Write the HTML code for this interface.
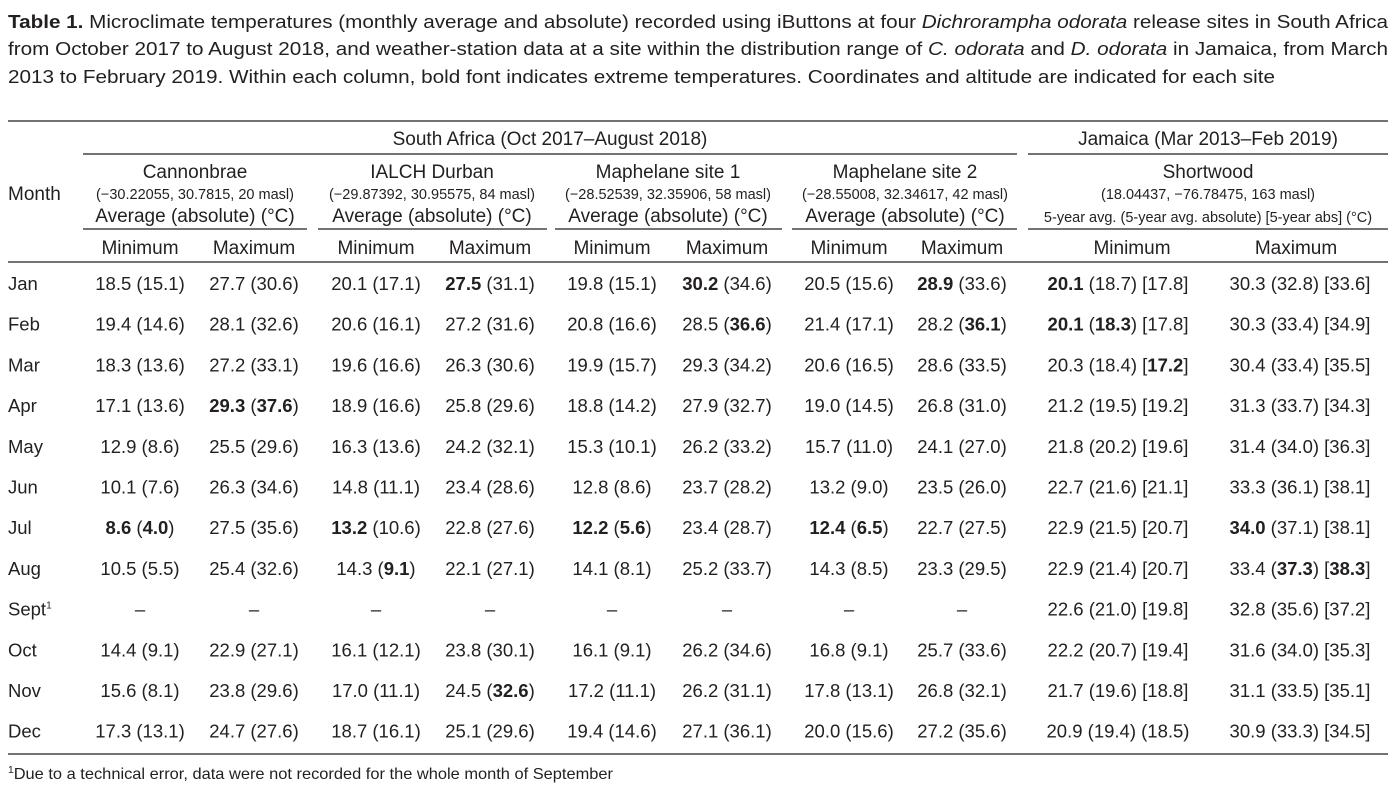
<!DOCTYPE html>
<html><head><meta charset="utf-8"><style>
body{margin:0;background:#fff}
svg{display:block;font-family:"Liberation Sans",sans-serif;fill:#231f20}
</style></head><body>
<svg id="t" width="1393" height="791" viewBox="0 0 1393 791" xmlns="http://www.w3.org/2000/svg">
<g font-size="18.5">
<text x="8" y="28" textLength="1380" lengthAdjust="spacingAndGlyphs"><tspan font-weight="bold">Table 1.</tspan> Microclimate temperatures (monthly average and absolute) recorded using iButtons at four <tspan font-style="italic">Dichrorampha odorata</tspan> release sites in South Africa</text>
<text x="8" y="55" textLength="1380" lengthAdjust="spacingAndGlyphs">from October 2017 to August 2018, and weather-station data at a site within the distribution range of <tspan font-style="italic">C. odorata</tspan> and <tspan font-style="italic">D. odorata</tspan> in Jamaica, from March</text>
<text x="8" y="83" textLength="1267" lengthAdjust="spacingAndGlyphs">2013 to February 2019. Within each column, bold font indicates extreme temperatures. Coordinates and altitude are indicated for each site</text>
</g>
<g stroke="#231f20" stroke-width="1.2">
<line x1="8" x2="1388" y1="121" y2="121"/>
<line x1="83" x2="1017" y1="154" y2="154"/>
<line x1="1028" x2="1388" y1="154" y2="154"/>
<line x1="83" x2="307" y1="229" y2="229"/>
<line x1="318" x2="547" y1="229" y2="229"/>
<line x1="555" x2="782" y1="229" y2="229"/>
<line x1="792" x2="1017" y1="229" y2="229"/>
<line x1="1028" x2="1388" y1="229" y2="229"/>
<line x1="8" x2="1388" y1="262" y2="262"/>
<line x1="8" x2="1388" y1="754" y2="754"/>
</g>
<g font-size="19" text-anchor="middle">
<text x="550" y="145">South Africa (Oct 2017–August 2018)</text>
<text x="1208" y="145">Jamaica (Mar 2013–Feb 2019)</text>
<text x="8" y="200" text-anchor="start">Month</text>
<g id="sites"></g>
</g>
<g id="body" font-size="18.5" text-anchor="middle"></g>
<text x="8" y="779" font-size="16" textLength="605" lengthAdjust="spacingAndGlyphs"><tspan font-size="10" dy="-6">1</tspan><tspan dy="6">Due to a technical error, data were not recorded for the whole month of September</tspan></text>
</svg>
<script>
const months=["Jan","Feb","Mar","Apr","May","Jun","Jul","Aug","Sept","Oct","Nov","Dec"];
const cannonMin=["18.5 (15.1)","19.4 (14.6)","18.3 (13.6)","17.1 (13.6)","12.9 (8.6)","10.1 (7.6)","*8.6* (*4.0*)","10.5 (5.5)","–","14.4 (9.1)","15.6 (8.1)","17.3 (13.1)"];
const cannonMax=["27.7 (30.6)","28.1 (32.6)","27.2 (33.1)","*29.3* (*37.6*)","25.5 (29.6)","26.3 (34.6)","27.5 (35.6)","25.4 (32.6)","–","22.9 (27.1)","23.8 (29.6)","24.7 (27.6)"];
const ialchMin=["20.1 (17.1)","20.6 (16.1)","19.6 (16.6)","18.9 (16.6)","16.3 (13.6)","14.8 (11.1)","*13.2* (10.6)","14.3 (*9.1*)","–","16.1 (12.1)","17.0 (11.1)","18.7 (16.1)"];
const ialchMax=["*27.5* (31.1)","27.2 (31.6)","26.3 (30.6)","25.8 (29.6)","24.2 (32.1)","23.4 (28.6)","22.8 (27.6)","22.1 (27.1)","–","23.8 (30.1)","24.5 (*32.6*)","25.1 (29.6)"];
const maph1Min=["19.8 (15.1)","20.8 (16.6)","19.9 (15.7)","18.8 (14.2)","15.3 (10.1)","12.8 (8.6)","*12.2* (*5.6*)","14.1 (8.1)","–","16.1 (9.1)","17.2 (11.1)","19.4 (14.6)"];
const maph1Max=["*30.2* (34.6)","28.5 (*36.6*)","29.3 (34.2)","27.9 (32.7)","26.2 (33.2)","23.7 (28.2)","23.4 (28.7)","25.2 (33.7)","–","26.2 (34.6)","26.2 (31.1)","27.1 (36.1)"];
const maph2Min=["20.5 (15.6)","21.4 (17.1)","20.6 (16.5)","19.0 (14.5)","15.7 (11.0)","13.2 (9.0)","*12.4* (*6.5*)","14.3 (8.5)","–","16.8 (9.1)","17.8 (13.1)","20.0 (15.6)"];
const maph2Max=["*28.9* (33.6)","28.2 (*36.1*)","28.6 (33.5)","26.8 (31.0)","24.1 (27.0)","23.5 (26.0)","22.7 (27.5)","23.3 (29.5)","–","25.7 (33.6)","26.8 (32.1)","27.2 (35.6)"];
const jamMin=["*20.1* (18.7) [17.8]","*20.1* (*18.3*) [17.8]","20.3 (18.4) [*17.2*]","21.2 (19.5) [19.2]","21.8 (20.2) [19.6]","22.7 (21.6) [21.1]","22.9 (21.5) [20.7]","22.9 (21.4) [20.7]","22.6 (21.0) [19.8]","22.2 (20.7) [19.4]","21.7 (19.6) [18.8]","20.9 (19.4) (18.5)"];
const jamMax=["30.3 (32.8) [33.6]","30.3 (33.4) [34.9]","30.4 (33.4) [35.5]","31.3 (33.7) [34.3]","31.4 (34.0) [36.3]","33.3 (36.1) [38.1]","*34.0* (37.1) [38.1]","33.4 (*37.3*) [*38.3*]","32.8 (35.6) [37.2]","31.6 (34.0) [35.3]","31.1 (33.5) [35.1]","30.9 (33.3) [34.5]"];
const sites=["Cannonbrae","IALCH Durban","Maphelane site 1","Maphelane site 2","Shortwood"];
const coords=["(−30.22055, 30.7815, 20 masl)","(−29.87392, 30.95575, 84 masl)","(−28.52539, 32.35906, 58 masl)","(−28.55008, 32.34617, 42 masl)","(18.04437, −76.78475, 163 masl)"];
const units=["Average (absolute) (°C)","Average (absolute) (°C)","Average (absolute) (°C)","Average (absolute) (°C)","5-year avg. (5-year avg. absolute) [5-year abs] (°C)"];
const cols=[cannonMin,cannonMax,ialchMin,ialchMax,maph1Min,maph1Max,maph2Min,maph2Max,jamMin,jamMax];
const colX=[140,254,376,490,612,727,849,962,1118,1300];
const hdrX=[140,254,376,490,612,727,849,962,1132,1296];
const siteX=[195,432,668,905,1208];
const NS="http://www.w3.org/2000/svg";
function txt(parent,x,y,s,size){
  const t=document.createElementNS(NS,'text');
  t.setAttribute('x',x);t.setAttribute('y',y);
  if(size)t.setAttribute('font-size',size);
  s.split('*').forEach((p,i)=>{if(!p)return;const sp=document.createElementNS(NS,'tspan');sp.textContent=p;if(i%2)sp.setAttribute('font-weight','bold');t.appendChild(sp);});
  parent.appendChild(t);return t;
}
const sg=document.getElementById('sites');
sites.forEach((s,i)=>{
  const a=txt(sg,siteX[i],178,s,19);
  
  
  const b=txt(sg,siteX[i],199,coords[i],14.5);
  
  
  const c=txt(sg,siteX[i],222,units[i],i==4?14.5:19);
  
  
});
hdrX.forEach((x,i)=>{
  const h=txt(sg,x,254,i%2?"Maximum":"Minimum",19);
  
  
});
const body=document.getElementById('body');
months.forEach((m,r)=>{
  const y=290+r*40.7;
  const mt=txt(body,8,y,m);
  mt.setAttribute('text-anchor','start');
  
  
  if(m==="Sept"){const sp=document.createElementNS(NS,'tspan');sp.textContent='1';sp.setAttribute('font-size','10');sp.setAttribute('dy','-7');mt.appendChild(sp);}
  cols.forEach((c,j)=>{
    const t=txt(body,colX[j],y,c[r]);
    
    
  });
});
</script>
</body></html>
